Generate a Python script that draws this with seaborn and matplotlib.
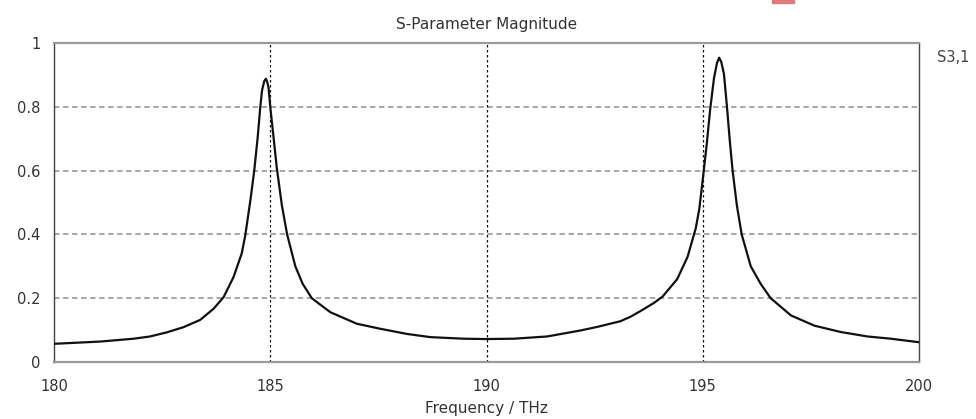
import numpy as np
import pandas as pd
import matplotlib
matplotlib.use("Agg")
import matplotlib.pyplot as plt
from matplotlib.patches import Rectangle
import seaborn as sns

# Frequency (THz) and |S3,1|
freq = [180.0, 181.06, 181.84, 182.22, 182.61, 182.99, 183.38, 183.69, 183.92,
        184.15, 184.34, 184.42, 184.54, 184.63, 184.71, 184.77, 184.81, 184.86,
        184.90, 184.93, 184.96, 185.0, 185.08, 185.15, 185.27, 185.39, 185.58,
        185.75, 185.96, 186.39, 187.0, 187.55, 188.16, 188.7, 189.47, 190.0,
        190.63, 191.4, 192.18, 192.56, 193.1, 193.33, 193.565, 193.87, 194.07,
        194.41, 194.65, 194.84, 194.92, 194.99, 195.09, 195.17, 195.26, 195.33,
        195.38, 195.43, 195.49, 195.56, 195.625, 195.69, 195.79, 195.90, 196.11,
        196.34, 196.57, 197.04, 197.58, 198.19, 198.81, 199.35, 200.0]
s31 = [0.057, 0.064, 0.073, 0.080, 0.093, 0.109, 0.132, 0.167, 0.203,
       0.266, 0.340, 0.395, 0.506, 0.600, 0.705, 0.800, 0.851, 0.880,
       0.888, 0.878, 0.860, 0.800, 0.700, 0.610, 0.490, 0.400, 0.300,
       0.245, 0.200, 0.156, 0.120, 0.104, 0.088, 0.078, 0.073, 0.072,
       0.073, 0.080, 0.099, 0.110, 0.128, 0.142, 0.160, 0.185, 0.205,
       0.260, 0.330, 0.420, 0.480, 0.560, 0.680, 0.790, 0.890, 0.938,
       0.954, 0.940, 0.903, 0.800, 0.694, 0.600, 0.490, 0.400, 0.300,
       0.245, 0.200, 0.146, 0.114, 0.094, 0.080, 0.073, 0.062]

x_ticks = [180, 185, 190, 195, 200]
y_ticks = [0, 0.2, 0.4, 0.6, 0.8, 1]
y_tick_labels = ["0", "0.2", "0.4", "0.6", "0.8", "1"]
title = "S-Parameter Magnitude"
x_label = "Frequency / THz"
series_label = "S3,1"

df = pd.DataFrame({"freq": freq, "s31": s31})

sns.set_style("white")
plt.rcParams['font.family'] = ['DejaVu Sans']

fig = plt.figure(figsize=(9.76, 4.19), dpi=100)
ax = fig.add_axes([54/976, 1-362/419, (919-54)/976, (362-43)/419])

sns.lineplot(data=df, x="freq", y="s31", ax=ax, color="#111111", linewidth=1.6,
             solid_joinstyle="round", zorder=3)

ax.set_xlim(180, 200)
ax.set_ylim(0, 1)
ax.set_xticks(x_ticks)
ax.set_xticklabels([str(t) for t in x_ticks])
ax.set_yticks(y_ticks)
ax.set_yticklabels(y_tick_labels)

# grid lines
for v in [0.2, 0.4, 0.6, 0.8]:
    ax.axhline(v, color="#a0a0a0", linewidth=1.3, linestyle=(0, (3, 2)), zorder=0)
for f in [185, 190, 195]:
    ax.axvline(f, color="#111111", linewidth=0.9, linestyle=(0, (2, 2)), zorder=1)

for s in ["top", "bottom"]:
    ax.spines[s].set_color("#9a9a9a")
    ax.spines[s].set_linewidth(1.6)
for s in ["left", "right"]:
    ax.spines[s].set_color("#444444")
    ax.spines[s].set_linewidth(1.0)

ax.tick_params(axis="both", direction="out", length=4.5, width=1, color="#777777",
               labelcolor="#333333", labelsize=10.5)
ax.tick_params(axis="y", pad=5)
ax.tick_params(axis="x", pad=8)

ax.set_xlabel(x_label, fontsize=11, color="#333333", labelpad=5)
ax.set_ylabel("")
ax.set_title(title, fontsize=11, color="#333333", pad=10)

fig.text(937/976, 1-58/419, series_label, fontsize=10.5, color="#444444",
         ha="left", va="center")

fig.patches.append(Rectangle((772/976, 1-3/419), 22/976, 3/419,
                             transform=fig.transFigure, color="#e07a7a"))

fig.savefig("out.png", dpi=100)
